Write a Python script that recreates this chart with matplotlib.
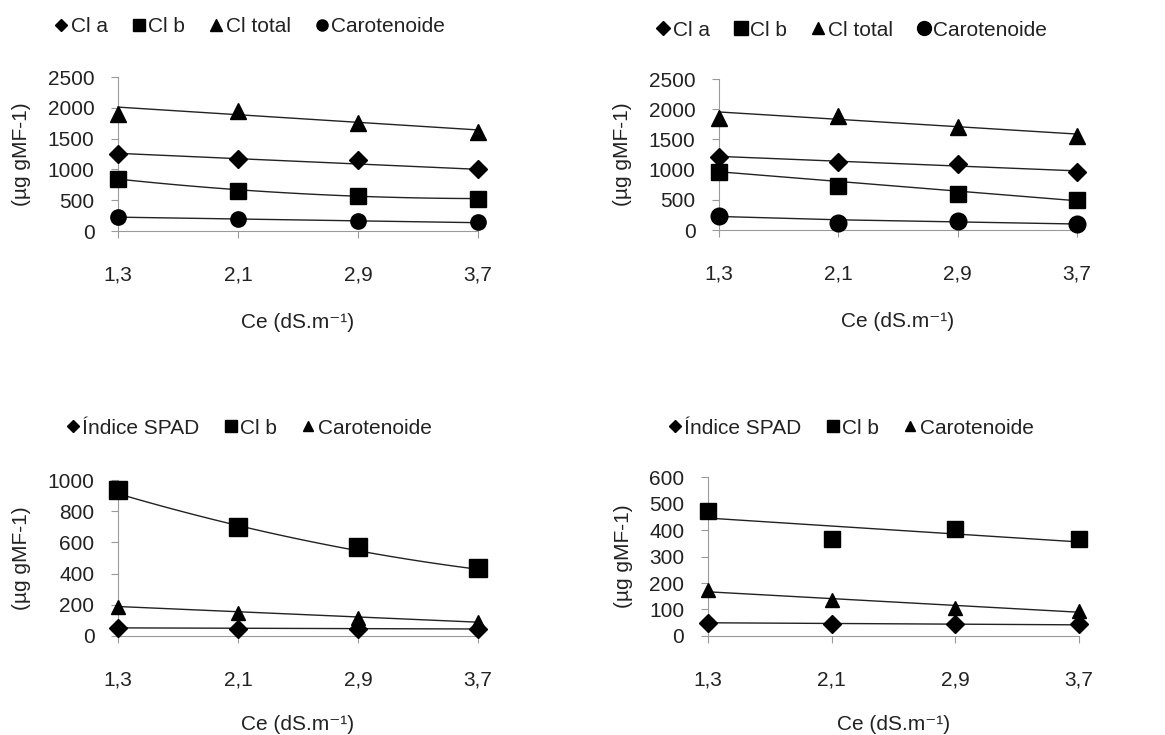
import numpy as np
import matplotlib.pyplot as plt
from matplotlib.lines import Line2D

plt.rcParams['font.family'] = ['Liberation Sans', 'DejaVu Sans']

# eixo x: condutividade eletrica
ce = [1.3, 2.1, 2.9, 3.7]
ce_labels = ['1,3', '2,1', '2,9', '3,7']

# painel superior esquerdo
a1_cla = [1250, 1170, 1150, 1000]
a1_clb = [840, 650, 570, 520]
a1_cltot = [1900, 1950, 1750, 1610]
a1_car = [230, 190, 165, 140]
a1_cla_tr = [1260, 1175, 1090, 1000]
a1_clb_tr = [845, 665, 570, 525]
a1_cltot_tr = [2010, 1890, 1765, 1640]
a1_car_tr = [225, 195, 165, 135]

# painel superior direito
a2_cla = [1210, 1130, 1100, 960]
a2_clb = [955, 730, 600, 500]
a2_cltot = [1850, 1890, 1700, 1550]
a2_car = [230, 120, 150, 100]
a2_cla_tr = [1220, 1140, 1060, 980]
a2_clb_tr = [970, 800, 640, 490]
a2_cltot_tr = [1955, 1835, 1710, 1590]
a2_car_tr = [225, 170, 135, 100]

# painel inferior esquerdo
b1_spad = [50, 48, 47, 45]
b1_clb = [935, 700, 570, 435]
b1_car = [185, 145, 115, 90]
b1_spad_tr = [52, 50, 47, 45]
b1_clb_tr = [915, 700, 555, 425]
b1_car_tr = [190, 155, 120, 90]

# painel inferior direito
b2_spad = [48, 46, 45, 44]
b2_clb = [470, 365, 405, 365]
b2_car = [175, 135, 105, 95]
b2_spad_tr = [50, 47, 45, 42]
b2_clb_tr = [445, 415, 385, 355]
b2_car_tr = [167, 141, 115, 90]

txt = '#222222'
fig = plt.figure(figsize=(11.65, 7.35), dpi=100)


def trend(ax, y, deg=1):
    xf = np.linspace(ce[0], ce[-1], 60)
    p = np.polyfit(ce, y, deg)
    ax.plot(xf, np.polyval(p, xf), color='#222222', lw=1.0, zorder=2, clip_on=False)


def base(rect, ymax, step, xlpad=20):
    ax = fig.add_axes(rect)
    ax.set_xlim(ce[0], ce[-1])
    ax.set_ylim(0, ymax)
    ax.set_yticks(np.arange(0, ymax + 1, step))
    ax.set_xticks(ce)
    ax.set_xticklabels(ce_labels)
    for s in ['top', 'right']:
        ax.spines[s].set_visible(False)
    for s in ['left', 'bottom']:
        ax.spines[s].set_color('#9a9a9a')
    ax.tick_params(axis='x', length=5, pad=20, color='#9a9a9a', labelsize=15, labelcolor=txt)
    ax.tick_params(axis='y', length=5, pad=12, color='#9a9a9a', labelsize=15, labelcolor=txt)
    ax.set_xlabel('Ce (dS.m⁻¹)', fontsize=15, color=txt, labelpad=xlpad)
    ax.set_ylabel('(µg gMF-1)', fontsize=15, color=txt, labelpad=12)
    return ax


def pts(ax, y, m, ms):
    ax.plot(ce, y, ls='none', marker=m, ms=ms, color='black', zorder=3, clip_on=False)


def legenda(ax, items, cx, cy):
    hs = [Line2D([], [], ls='none', marker=m, ms=ms, color='black') for m, ms, _ in items]
    ax.legend(hs, [t for _, _, t in items], loc='center', bbox_to_anchor=(cx, cy),
              bbox_transform=fig.transFigure, ncol=len(items), frameon=False,
              fontsize=15, handlelength=0.6, handletextpad=0.15, columnspacing=1.2,
              labelcolor=txt)


# superior esquerdo
ax = base([0.1013, 0.6857, 0.309, 0.2095], 2500, 500)
trend(ax, a1_cltot_tr)
trend(ax, a1_cla_tr)
trend(ax, a1_clb_tr, 2)
trend(ax, a1_car_tr)
pts(ax, a1_cltot, '^', 11)
pts(ax, a1_cla, 'D', 9)
pts(ax, a1_clb, 's', 11)
pts(ax, a1_car, 'o', 11)
legenda(ax, [('D', 6, 'Cl a'), ('s', 8, 'Cl b'), ('^', 8, 'Cl total'), ('o', 8, 'Carotenoide')],
        250 / 1165, 1 - 27 / 735)

# superior direito
ax = base([0.6172, 0.687, 0.3073, 0.2054], 2500, 500)
trend(ax, a2_cltot_tr)
trend(ax, a2_cla_tr)
trend(ax, a2_clb_tr)
ax.plot(ce, a2_car_tr, color='#222222', lw=1.0, zorder=2)
pts(ax, a2_cltot, '^', 11)
pts(ax, a2_cla, 'D', 9)
pts(ax, a2_clb, 's', 12)
pts(ax, a2_car, 'o', 12)
legenda(ax, [('D', 7, 'Cl a'), ('s', 10, 'Cl b'), ('^', 9, 'Cl total'), ('o', 10, 'Carotenoide')],
        852 / 1165, 1 - 30 / 735)

# inferior esquerdo
ax = base([0.1013, 0.1347, 0.309, 0.2122], 1000, 200, xlpad=18)
trend(ax, b1_clb_tr, 2)
trend(ax, b1_car_tr)
trend(ax, b1_spad_tr)
pts(ax, b1_clb, 's', 13)
pts(ax, b1_car, '^', 10)
pts(ax, b1_spad, 'D', 9)
legenda(ax, [('D', 6, 'Índice SPAD'), ('s', 8, 'Cl b'), ('^', 7, 'Carotenoide')],
        249 / 1165, 1 - 428 / 735)

# inferior direito
ax = base([0.6077, 0.1347, 0.3185, 0.2163], 600, 100, xlpad=18)
trend(ax, b2_clb_tr)
trend(ax, b2_car_tr)
trend(ax, b2_spad_tr)
pts(ax, b2_clb, 's', 12)
pts(ax, b2_car, '^', 10)
pts(ax, b2_spad, 'D', 9)
legenda(ax, [('D', 6, 'Índice SPAD'), ('s', 8, 'Cl b'), ('^', 7, 'Carotenoide')],
        851 / 1165, 1 - 428 / 735)

fig.savefig('out.png', dpi=100, facecolor='white')
